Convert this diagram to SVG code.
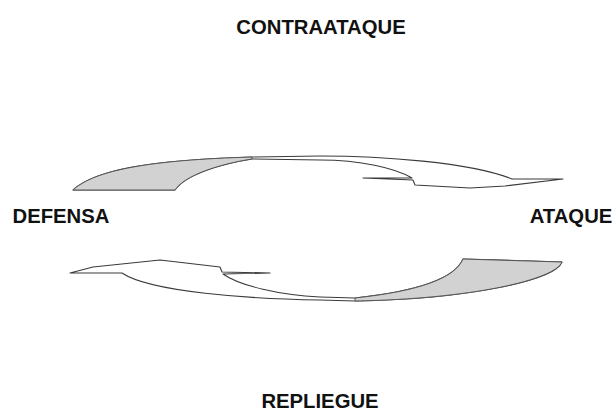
<svg xmlns="http://www.w3.org/2000/svg" width="616" height="412" viewBox="0 0 616 412">
<style>
.lbl{font-family:"Liberation Sans",Arial,sans-serif;font-weight:bold;font-size:20.3px;fill:#111;text-anchor:middle}
.ribbon{fill:#fff;stroke:#3a3a3a;stroke-width:1.1;stroke-linejoin:round}
.shade{fill:#d2d2d2;stroke:#555;stroke-width:1;stroke-linejoin:round}
</style>
<rect width="616" height="412" fill="#fff"/>
<g id="contraataque"><text class="lbl" x="321" y="34">CONTRAATAQUE</text></g>
<g id="defensa"><text class="lbl" x="61" y="223">DEFENSA</text></g>
<g id="ataque"><text class="lbl" x="571" y="223">ATAQUE</text></g>
<g id="repliegue"><text class="lbl" x="320" y="408">REPLIEGUE</text></g>
<g id="connectors">
  <g id="arrow-top">
    <path class="ribbon" d="M73,190 C95,170 150,160 252,157 L320,156 C380,156 470,162 512,179 L563,179 L505,186 L470,188 L415,185 L413,180 L363,178 L412,178 C395,168 360,160 320,160 L252,159 C220,164 185,175 175,190 Z"/>
    <path class="shade" d="M73,190 C95,170 150,160 252,157 L252,159 C220,164 185,175 175,190 Z"/>
  </g>
  <g id="arrow-bottom">
    <path class="ribbon" d="M463,259 L562,262 C555,280 470,299 355,301 L320,300 C250,299 150,292 122,273 L70,273 L93,267 L160,260 L220,267 L222,272 L270,273 L223,274 C240,286 280,295 320,297 L355,298 C420,291 455,278 463,259 Z"/>
    <path class="shade" d="M463,259 L562,262 C555,280 470,299 355,301 L355,298 C420,291 455,278 463,259 Z"/>
  </g>
</g>
</svg>
